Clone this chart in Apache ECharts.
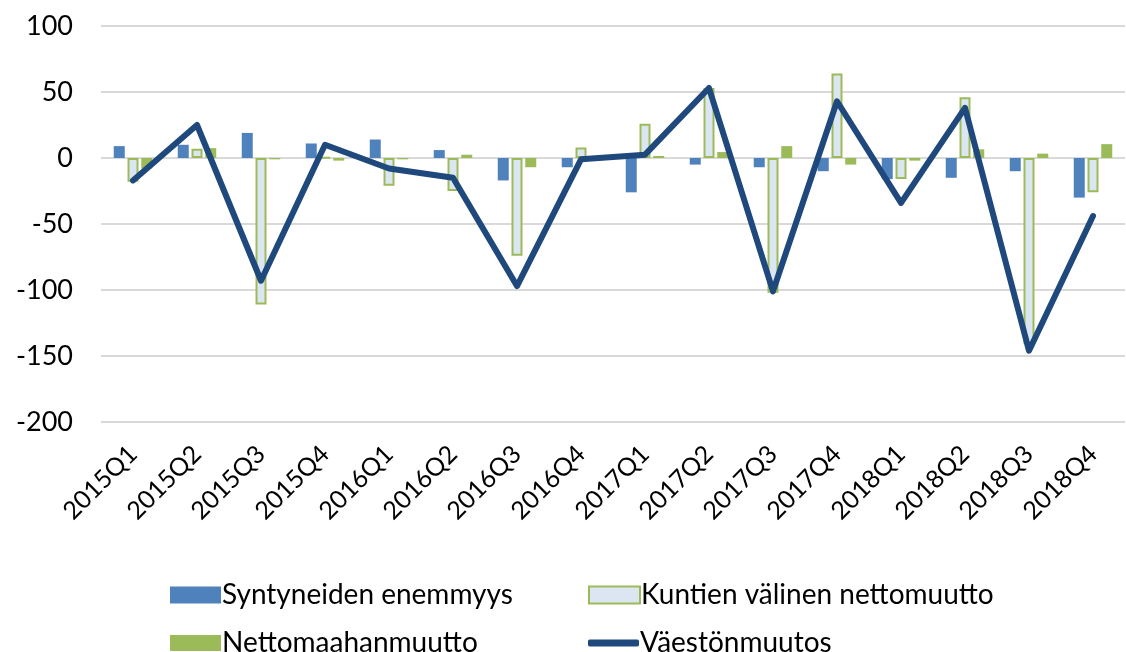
<!DOCTYPE html>
<html>
<head>
<meta charset="utf-8">
<script src="https://cdn.jsdelivr.net/npm/echarts@6/dist/echarts.min.js"></script>
<style>
  html,body{margin:0;padding:0;background:#fff;}
  #container1{width:1126px;height:652px;}
</style>
</head>
<body>
<div id="container1"></div>
<script>
// 分类（季度）
var quarters=['2015Q1','2015Q2','2015Q3','2015Q4','2016Q1','2016Q2','2016Q3','2016Q4',
              '2017Q1','2017Q2','2017Q3','2017Q4','2018Q1','2018Q2','2018Q3','2018Q4'];
// 各系列数据
var syntyneet=[9,10,19,11,14,6,-17,-7,-26,-5,-7,-10,-16,-15,-10,-30];
var kuntien=[-18,7,-111,0.5,-21,-25,-74,8,26,53,-102,64,-16,46,-141,-26];
var maahan=[-8,7.5,-1,-2,-1,2.5,-7,0.5,1.5,4.5,9,-5,-2,6.6,3.3,10.5];
var vaesto=[-17,25,-93,10,-8,-15,-97,-1,2.5,53,-101,43,-34,38,-146,-44];
var yTicks={min:-200,max:100,interval:50};

var fontName='Lato, "Noto Sans", sans-serif';

var myChart=echarts.init(document.getElementById('container1'));

//图例：每项单独放，保证两列对齐
function legendItem(name,left,top,icon,h){
  return {
    data:[name],
    left:left,
    top:top,
    icon:icon,
    itemWidth:51,
    itemHeight:h,
    itemGap:0,
    selectedMode:false,
    textStyle:{fontFamily:fontName,fontSize:28,color:'#000',padding:[0,0,0,-4]}
  };
}

var option={
  animation:false,
  textStyle:{fontFamily:fontName},
  grid:{left:101,right:1,top:26,bottom:230,containLabel:false},
  legend:[
    legendItem('Syntyneiden enemmyys',165,576,'rect',17),
    legendItem('Kuntien välinen nettomuutto',583,576,'rect',17),
    legendItem('Nettomaahanmuutto',165,624,'rect',16),
    legendItem('Väestönmuutos',583,624,'roundRect',7)
  ],
  xAxis:{
    type:'category',
    data:quarters,
    axisLine:{show:false},
    axisTick:{show:false},
    axisLabel:{
      rotate:45,
      margin:28,
      fontSize:25,
      color:'#000',
      fontFamily:fontName,
      interval:0
    }
  },
  yAxis:{
    type:'value',
    min:yTicks.min,
    max:yTicks.max,
    interval:yTicks.interval,
    axisLine:{show:false},
    axisTick:{show:false},
    axisLabel:{fontSize:27,color:'#000',margin:28,fontFamily:fontName},
    splitLine:{lineStyle:{color:'#d9d9d9',width:2}}
  },
  series:[
    {
      name:'Syntyneiden enemmyys',
      type:'bar',
      data:syntyneet,
      barWidth:11,
      barGap:'25%',
      itemStyle:{color:'#4f81bd'}
    },
    {
      name:'Kuntien välinen nettomuutto',
      type:'bar',
      data:kuntien,
      barWidth:11,
      barGap:'25%',
      itemStyle:{color:'#dce6f2',borderColor:'#9bbb59',borderWidth:2}
    },
    {
      name:'Nettomaahanmuutto',
      type:'bar',
      data:maahan,
      barWidth:11,
      barGap:'25%',
      itemStyle:{color:'#9bbb59'}
    },
    {
      name:'Väestönmuutos',
      type:'line',
      data:vaesto,
      showSymbol:false,
      symbol:'none',
      z:10,
      itemStyle:{color:'#1f497d'},
      lineStyle:{color:'#1f497d',width:6,cap:'round',join:'round'}
    }
  ]
};
myChart.setOption(option);
</script>
</body>
</html>
